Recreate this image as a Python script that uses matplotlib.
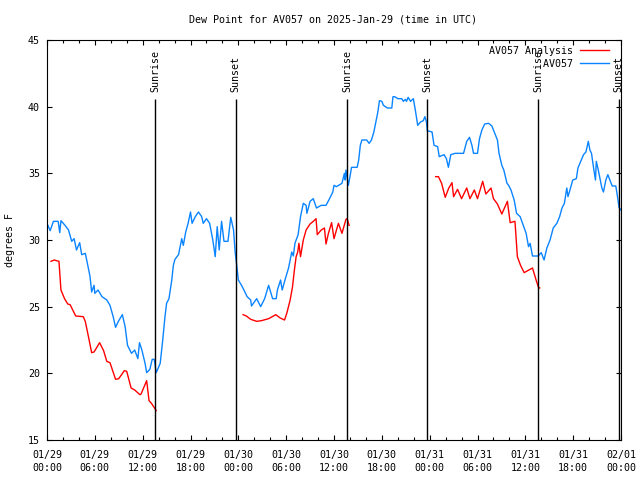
import numpy as np
import pandas as pd
from matplotlib import pyplot as plt
from matplotlib import rcParams
import matplotlib.dates as mdates

rcParams["figure.dpi"] = 100
rcParams["font.family"] = "DejaVu Sans Mono"
rcParams["font.size"] = 7.2

# hours after 2025-01-29 00:00 UTC, dew point in deg F
obs_hours = [0.0, 0.4, 0.8, 1.4, 1.6, 1.75, 2.26, 2.7, 3.1, 3.4, 3.7, 4.1, 4.35, 4.8, 4.98,
             5.4, 5.6, 5.9, 6.0, 6.4, 6.9, 7.5, 7.9, 8.3, 8.6, 8.95, 9.45, 9.8, 10.1, 10.6,
             11.0, 11.4, 11.6, 11.9, 12.3, 12.5, 12.9, 13.2, 13.45, 13.7, 14.2, 14.5, 14.8,
             15.0, 15.3, 15.65, 15.85, 16.05, 16.5, 16.9, 17.1, 17.4, 17.7, 18.0, 18.2, 18.6,
             19.0, 19.4, 19.6, 20.0, 20.4, 20.8, 21.1, 21.35, 21.6, 21.9, 22.2, 22.7, 23.05,
             23.4, 23.6, 23.8, 24.0, 24.4, 24.7, 25.1, 25.55, 25.65, 26.3, 26.8, 27.3, 27.8,
             28.3, 28.75, 28.9, 29.3, 29.5, 29.9, 30.3, 30.7, 30.9, 31.1, 31.5, 31.8, 32.15,
             32.5, 32.6, 33.0, 33.4, 33.8, 34.4, 35.0, 35.4, 35.85, 36.0, 36.3, 37.0, 37.3,
             37.4, 37.5, 37.8, 38.0, 38.2, 38.9, 39.1, 39.3, 39.5, 40.1, 40.4, 40.7, 41.0,
             41.3, 41.5, 41.7, 42.0, 42.2, 42.7, 43.25, 43.4, 43.6, 44.0, 44.5, 44.7, 44.95,
             45.1, 45.3, 45.6, 45.95, 46.2, 46.5, 46.85, 47.2, 47.4, 47.6, 47.7, 48.3, 48.55,
             49.0, 49.2, 49.8, 50.1, 50.35, 50.65, 51.2, 52.25, 52.65, 53.0, 53.3, 53.5, 54.0,
             54.25, 54.55, 54.9, 55.4, 55.8, 56.1, 56.5, 56.7, 57.05, 57.3, 57.7, 57.9, 58.2,
             58.6, 58.9, 59.35, 59.8, 60.1, 60.4, 60.6, 60.9, 61.6, 62.0, 62.35, 62.7, 63.1,
             63.5, 63.95, 64.3, 64.6, 64.9, 65.2, 65.35, 65.55, 65.95, 66.4, 66.6, 66.95, 67.3,
             67.6, 67.9, 68.1, 68.3, 68.6, 68.8, 68.9, 69.15, 69.6, 69.8, 70.1, 70.35, 70.6,
             70.9, 71.35, 71.6, 71.75, 72.0]
obs_dewpt = [31.25, 30.7, 31.4, 31.4, 30.55, 31.45, 31.1, 30.75, 29.9, 30.1, 29.25, 29.8, 28.9, 29.0, 28.5,
             27.25, 26.1, 26.6, 26.0, 26.25, 25.75, 25.5, 25.1, 24.25, 23.45, 23.9, 24.4, 23.5, 22.1, 21.5,
             21.75, 21.1, 22.3, 21.75, 20.75, 20.05, 20.3, 21.05, 21.05, 20.05, 20.75, 22.4, 24.25,
             25.25, 25.6, 27.0, 28.1, 28.55, 28.9, 30.1, 29.6, 30.6, 31.25, 32.1, 31.25, 31.75,
             32.1, 31.75, 31.25, 31.6, 31.25, 30.0, 28.75, 31.0, 29.25, 31.4, 29.9, 29.9, 31.7,
             30.75, 29.1, 28.1, 27.0, 26.6, 26.25, 25.75, 25.5, 25.05, 25.6, 25.0, 25.6, 26.6,
             25.6, 25.6, 26.25, 27.0, 26.25, 27.1, 27.9, 29.1, 28.8, 29.75, 30.4, 31.75, 32.75,
             32.6, 32.0, 32.9, 33.1, 32.4, 32.6, 32.6, 33.05, 33.6, 34.1, 34.0, 34.25, 35.0,
             34.5, 35.25, 34.1, 34.75, 35.45, 35.45, 36.0, 37.1, 37.5, 37.5, 37.25, 37.5, 38.1,
             39.0, 39.6, 40.45, 40.4, 40.1, 39.9, 39.9, 40.75, 40.75, 40.6, 40.6, 40.4, 40.55,
             40.4, 40.7, 40.4, 40.6, 39.75, 38.6, 38.85, 38.95, 39.25, 38.85, 38.2, 38.1, 37.1,
             37.0, 36.25, 36.4, 36.1, 35.45, 36.4, 36.5, 36.5, 37.4, 37.7, 37.1, 36.5, 36.5,
             37.6, 38.25, 38.7, 38.75, 38.55, 38.1, 37.5, 36.5, 35.6, 35.25, 34.25, 34.1, 33.75,
             33.0, 32.0, 31.75, 31.0, 30.5, 29.5, 29.75, 28.8, 28.8, 29.05, 28.5, 29.4, 30.0,
             30.9, 31.25, 31.75, 32.4, 32.75, 33.9, 33.25, 33.65, 34.5, 34.6, 35.4, 35.9, 36.4,
             36.6, 37.4, 36.75, 36.5, 35.25, 34.5, 35.9, 35.25, 33.9, 33.6, 34.5, 34.9, 34.5,
             34.05, 34.05, 33.1, 32.45, 32.25]

# analysis series, nan marks the gaps
ana_hours = [0.5, 0.9, 1.5, 1.75, 2.2, 2.6, 2.9, 3.6, 4.55, 4.8, 5.2, 5.6, 5.9, 6.6, 7.1, 7.5,
             7.9, 8.6, 9.0, 9.7, 10.0, 10.55, 11.0, 11.65, 11.8, 12.5, 12.8, 13.1, 13.7, 19.0,
             24.6, 25.0, 25.55, 26.3, 26.9, 27.8, 28.7, 29.25, 29.8, 30.1, 30.5, 30.8, 31.0,
             31.25, 31.45, 31.6, 31.8, 32.15, 32.5, 33.0, 33.4, 33.75, 33.9, 34.4, 34.8, 35.0,
             35.3, 35.7, 36.0, 36.55, 37.0, 37.5, 37.65, 37.9, 43.0,
             48.75, 49.1, 49.5, 49.95, 50.4, 50.8, 51.0, 51.5, 52.0, 52.65, 53.05, 53.6, 54.0,
             54.65, 55.05, 55.7, 56.0, 56.5, 57.05, 57.75, 58.1, 58.7, 59.0, 59.4, 59.85, 60.3,
             60.9, 61.35, 61.65, 61.8]
ana_dewpt = [28.4, 28.5, 28.4, 26.25, 25.6, 25.2, 25.15, 24.3, 24.25, 23.9, 22.75, 21.55, 21.6, 22.3, 21.7, 20.9,
             20.8, 19.55, 19.6, 20.2, 20.15, 18.9, 18.75, 18.4, 18.45, 19.45, 17.95, 17.75, 17.2, np.nan,
             24.4, 24.3, 24.05, 23.9, 23.95, 24.1, 24.4, 24.15, 24.0, 24.55, 25.5, 26.5, 27.6,
             28.75, 29.1, 29.75, 28.75, 30.0, 30.75, 31.2, 31.4, 31.6, 30.4, 30.75, 30.9, 29.7,
             30.5, 31.3, 30.1, 31.25, 30.5, 31.55, 31.6, 31.1, np.nan,
             34.75, 34.75, 34.25, 33.2, 33.9, 34.3, 33.25, 33.8, 33.1, 33.9, 33.1, 33.75, 33.1,
             34.4, 33.45, 33.9, 33.1, 32.7, 31.95, 32.9, 31.3, 31.4, 28.75, 28.1, 27.55, 27.7,
             27.9, 27.0, 26.45, 26.4]

sun_hours = [13.6, 23.65, 37.65, 47.7, 61.6, 71.72]
sun_labels = ["Sunrise", "Sunset", "Sunrise", "Sunset", "Sunrise", "Sunset"]

start = pd.Timestamp("2025-01-29 00:00")


def to_time(hours):
    return start + pd.to_timedelta(np.asarray(hours, dtype=float), unit="h")


fig = plt.figure(figsize=(6.4, 4.8))
ax = fig.add_axes([47 / 640, 40 / 480, 574 / 640, 400 / 480])

ax.plot(to_time(ana_hours), ana_dewpt, color="#ff0000", lw=1.0, label="AV057 Analysis")
ax.plot(to_time(obs_hours), obs_dewpt, color="#0a84ff", lw=1.0, label="         AV057")

for h, lab in zip(sun_hours, sun_labels):
    t = to_time([h])[0]
    ax.vlines(t, 15, 40.6, color="black", lw=1.0)
    ax.text(t, 41.1, lab, rotation=90, ha="center", va="bottom")

ax.set_xlim(to_time([0])[0], to_time([72])[0])
ax.set_ylim(15, 45)
ax.set_yticks(np.arange(15, 46, 5))
ax.xaxis.set_major_locator(mdates.HourLocator(byhour=[0, 6, 12, 18]))
ax.xaxis.set_minor_locator(mdates.HourLocator(byhour=range(0, 24, 2)))
ax.xaxis.set_major_formatter(mdates.DateFormatter("%m/%d\n%H:%M"))
ax.tick_params(which="both", direction="in", top=True, right=True, width=0.8)
ax.tick_params(which="major", length=3.6)
ax.tick_params(which="minor", length=2.3)
ax.tick_params(axis="x", pad=7)
ax.tick_params(axis="y", pad=5)
for lbl in ax.get_xticklabels():
    lbl.set_linespacing(1.45)
for sp in ax.spines.values():
    sp.set_linewidth(0.8)

ax.legend(loc="upper right", bbox_to_anchor=(1 - 6 / 574, 1), frameon=False,
          markerfirst=False, handlelength=2.9, handletextpad=0.7, labelspacing=0.3,
          borderaxespad=0.3, borderpad=0.3)

fig.text(0.52, 1 - 19 / 480, "Dew Point for AV057 on 2025-Jan-29 (time in UTC)",
         ha="center", va="center")
fig.text(10 / 640, 0.5, "degrees F", rotation=90, ha="center", va="center")

fig.savefig("out.png", dpi=100)
